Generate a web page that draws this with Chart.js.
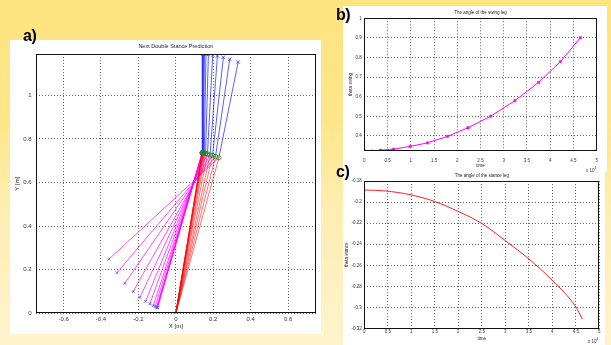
<!DOCTYPE html>
<html>
<head>
<meta charset="utf-8">
<script src="https://cdn.jsdelivr.net/npm/chart.js@4/dist/chart.umd.min.js"></script>
<style>
  html,body{margin:0;padding:0;}
  #stage{position:relative;width:611px;height:345px;overflow:hidden;
    background:linear-gradient(to bottom,#fde47f 0%,#fde68a 35%,#feedb0 60%,#fff3cc 100%);
    font-family:'Liberation Sans',Arial,sans-serif;}
  .panel{position:absolute;background:#fff;}
  .panel canvas{display:block;}
  .lbl{position:absolute;font-weight:bold;font-size:16px;color:#000;line-height:16px;letter-spacing:-0.5px;}
  .exp{position:absolute;font-size:4.5px;color:#333;line-height:5px;white-space:nowrap;}
  .exp sup{font-size:3.5px;vertical-align:3px;}
</style>
</head>
<body>
<div id="stage">
  <div class="panel" style="left:10px;top:40px;width:311px;height:294px"><canvas id="ca" width="311" height="294"></canvas></div>
  <div class="panel" style="left:343px;top:6px;width:264px;height:166px"><canvas id="cb" width="264" height="166"></canvas></div>
  <div class="panel" style="left:343px;top:171px;width:262px;height:174px"><canvas id="cc" width="262" height="174"></canvas></div>
  <div class="lbl" style="left:23px;top:28px">a)</div>
  <div class="lbl" style="left:336px;top:7px">b)</div>
  <div class="lbl" style="left:336px;top:164px">c)</div>
  <div class="exp" style="left:586px;top:166px">x 10<sup>4</sup></div>
  <div class="exp" style="left:588px;top:337px">x 10<sup>4</sup></div>
</div>
<script>
// ---------- Panel a: stick-figure frames ----------
const stanceFootX = 0;
const stanceFootY = 0;
const hipX  = [0.141,0.141,0.141,0.142,0.144,0.147,0.152,0.159,0.169,0.183,0.196,0.212,0.230];
const hipY  = [0.737,0.737,0.737,0.736,0.736,0.735,0.735,0.733,0.731,0.727,0.724,0.719,0.714];
const headX = [0.141,0.142,0.143,0.145,0.148,0.153,0.161,0.174,0.197,0.222,0.254,0.288,0.333];
const headY = [1.193,1.193,1.193,1.192,1.191,1.190,1.190,1.189,1.185,1.181,1.175,1.166,1.153];
const footX = [-0.099,-0.097,-0.101,-0.103,-0.111,-0.121,-0.139,-0.162,-0.192,-0.228,-0.272,-0.315,-0.358];
const footY = [0.026,0.026,0.027,0.028,0.031,0.035,0.043,0.055,0.073,0.100,0.138,0.186,0.248];
const aXTicks  = [-0.6,-0.4,-0.2,0,0.2,0.4,0.6];
const aXLabels = ['-0.6','-0.4','-0.2','0','0.2','0.4','0.6'];
const aYTicks  = [0,0.2,0.4,0.6,0.8,1];
const aYLabels = ['0','0.2','0.4','0.6','0.8','1'];

// ---------- Panel b: swing leg angle ----------
const timeB = [0,0.16,0.35,0.63,0.99,1.36,1.79,2.23,2.72,3.24,3.75,4.22,4.65];
const swingAngle = [0.325,0.323,0.328,0.333,0.347,0.365,0.398,0.442,0.501,0.580,0.673,0.779,0.901];
const bXTicks  = [0,0.5,1,1.5,2,2.5,3,3.5,4,4.5,5];
const bXLabels = ['0','0.5','1','1.5','2','2.5','3','3.5','4','4.5','5'];
const bYTicks  = [0.4,0.5,0.6,0.7,0.8,0.9,1];
const bYLabels = ['0.4','0.5','0.6','0.7','0.8','0.9','1'];

// ---------- Panel c: stance leg angle ----------
const timeC = [0,0.44,1.0,1.5,2.0,2.5,3.0,3.5,4.0,4.5,4.64];
const stanceAngle = [-0.1885,-0.1894,-0.1932,-0.1995,-0.2089,-0.2203,-0.2366,-0.2539,-0.2743,-0.2995,-0.3111];
const cXTicks  = bXTicks;
const cXLabels = bXLabels;
const cYTicks  = [-0.32,-0.3,-0.28,-0.26,-0.24,-0.22,-0.2,-0.18];
const cYLabels = ['-0.32','-0.3','-0.28','-0.26','-0.24','-0.22','-0.2','-0.18'];

Chart.defaults.font.family = "'Liberation Sans', Arial, sans-serif";
Chart.defaults.color = '#333';

function segs(ax, ay, bx, by){
  const out = [];
  for (let i = 0; i < bx.length; i++){
    out.push({x: Array.isArray(ax) ? ax[i] : ax, y: Array.isArray(ay) ? ay[i] : ay});
    out.push({x: bx[i], y: by[i]});
    out.push({x: null, y: null});
  }
  return out;
}
function pts(xs, ys){ return xs.map((x,i)=>({x:x, y:ys[i]})); }

const boxPlugin = {
  id:'matlabBox',
  afterLayout(chart){
    const t = chart.titleBlock, a = chart.chartArea;
    if (t){ t.left = a.left; t.right = a.right; t.width = a.right - a.left; }
  },
  afterDatasetsDraw(chart){
    const {ctx, chartArea:a} = chart;
    ctx.save();
    ctx.strokeStyle = '#111';
    ctx.lineWidth = 1;
    ctx.setLineDash([]);
    ctx.strokeRect(Math.round(a.left)+0.5, Math.round(a.top)+0.5,
                   Math.round(a.right)-Math.round(a.left)-1, Math.round(a.bottom)-Math.round(a.top)-1);
    ctx.restore();
  }
};

function axis(o){
  return {
    type:'linear', min:o.min, max:o.max,
    afterBuildTicks: s => { s.ticks = o.ticks.map(v=>({value:v})); },
    afterFit: s => { if (o.w !== undefined) s.width = o.w; if (o.h !== undefined) s.height = o.h; },
    grid:{ color:'rgba(0,0,0,0.6)', lineWidth:1, drawTicks:false },
    border:{ display:false, dash:[1,2] },
    ticks:{ font:{size:o.fs}, color:'#333', padding:o.pad, maxRotation:0, autoSkip:false,
            callback:(v,i)=>o.labels[i] },
    title:{ display:true, text:o.title, font:{size:o.tfs}, color:'#222', padding:o.tpad }
  };
}

function base(o){
  return {
    responsive:false, animation:false, devicePixelRatio:1, events:[],
    layout:{ padding:{left:0, right:o.padRight, top:0, bottom:0} },
    plugins:{
      legend:{display:false}, tooltip:{enabled:false},
      title:{ display:true, text:o.title, font:{size:o.tfs, weight:'normal'}, color:'#222',
              padding:{top:o.tTop, bottom:o.tBot} }
    }
  };
}

// ---------- Chart a ----------
const optA = base({padRight:4, title:'Next Double Stance Prediction', tfs:5.5, tTop:2.7, tBot:4.7});
optA.scales = {
  x: axis({min:-0.75, max:0.75, ticks:aXTicks, labels:aXLabels, h:20.7, fs:6, pad:2,
           title:'X [m]', tfs:6, tpad:{top:0,bottom:4.4}}),
  y: axis({min:0, max:1.19, ticks:aYTicks, labels:aYLabels, w:25.5, fs:6, pad:4,
           title:'Y [m]', tfs:6, tpad:{top:4.2,bottom:0}})
};
new Chart(document.getElementById('ca'), {
  type:'scatter',
  data:{ datasets:[
    {data:pts(hipX,hipY), pointStyle:'circle', pointRadius:2.2, borderColor:'#1a8a1a', backgroundColor:'rgba(0,0,0,0)', borderWidth:0.8, showLine:false},
    {data:pts(headX,headY), pointStyle:'crossRot', pointRadius:2.3, borderColor:'#3030ff', borderWidth:0.8, showLine:false},
    {data:pts(footX,footY), pointStyle:'crossRot', pointRadius:2, borderColor:'#5a50e8', borderWidth:0.8, showLine:false},
    {data:[{x:stanceFootX,y:stanceFootY}], pointStyle:'rectRot', pointRadius:2, borderColor:'#3030ff', backgroundColor:'#6060ff', borderWidth:0.8, showLine:false},
    {data:segs(hipX,hipY,headX,headY), showLine:true, spanGaps:false, pointRadius:0, borderColor:'rgba(40,40,255,0.75)', borderWidth:1},
    {data:segs(stanceFootX,stanceFootY,hipX,hipY), showLine:true, spanGaps:false, pointRadius:0, borderColor:'rgba(255,0,0,0.55)', borderWidth:1},
    {data:segs(hipX,hipY,footX,footY), showLine:true, spanGaps:false, pointRadius:0, borderColor:'rgba(255,0,255,0.7)', borderWidth:1}
  ]},
  options:optA,
  plugins:[boxPlugin]
});

// ---------- Chart b ----------
const optB = base({padRight:10.3, title:'The angle of the swing leg', tfs:4.5, tTop:4.3, tBot:2.6});
optB.scales = {
  x: axis({min:0, max:5, ticks:bXTicks, labels:bXLabels, h:21.3, fs:4.5, pad:7.5,
           title:'time', tfs:4.5, tpad:{top:0,bottom:3.6}}),
  y: axis({min:0.325, max:1, ticks:bYTicks, labels:bYLabels, w:21.3, fs:4.5, pad:2.5,
           title:'theta swing', tfs:4.5, tpad:{top:5,bottom:0}})
};
new Chart(document.getElementById('cb'), {
  type:'scatter',
  data:{ datasets:[
    {data:pts(timeB,swingAngle), showLine:true, borderColor:'#ff00ff', backgroundColor:'#ff00ff', borderWidth:1,
     pointStyle:'rect', pointRadius:1.6, pointBorderWidth:0.5}
  ]},
  options:optB,
  plugins:[boxPlugin]
});

// ---------- Chart c ----------
const optC = base({padRight:5.7, title:'The angle of the stance leg', tfs:4.5, tTop:2.3, tBot:2.3});
optC.scales = {
  x: axis({min:0, max:5, ticks:cXTicks, labels:cXLabels, h:16.5, fs:4.5, pad:1,
           title:'time', tfs:4.5, tpad:{top:0,bottom:3.3}}),
  y: axis({min:-0.32, max:-0.18, ticks:cYTicks, labels:cYLabels, w:21.3, fs:4.5, pad:2.5,
           title:'theta stance', tfs:4.5, tpad:{top:1,bottom:0}})
};
new Chart(document.getElementById('cc'), {
  type:'scatter',
  data:{ datasets:[
    {data:pts(timeC,stanceAngle), showLine:true, borderColor:'#ff2020', borderWidth:1, pointRadius:0,
     cubicInterpolationMode:'monotone'}
  ]},
  options:optC,
  plugins:[boxPlugin]
});
</script>
</body>
</html>
